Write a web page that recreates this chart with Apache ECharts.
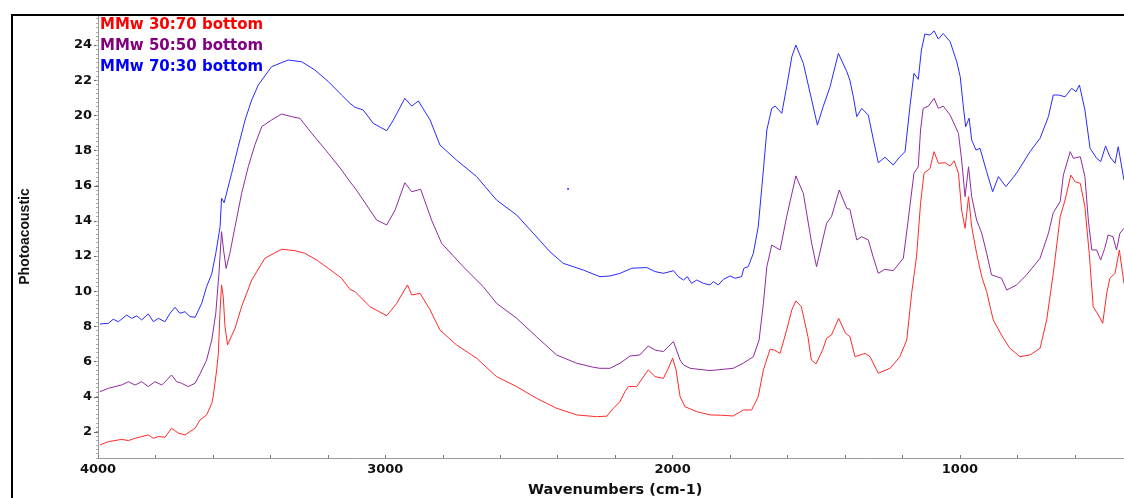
<!DOCTYPE html>
<html>
<head>
<meta charset="utf-8">
<script src="https://cdn.jsdelivr.net/npm/echarts@6/dist/echarts.min.js"></script>
<style>
html,body{margin:0;padding:0;background:#fff;}
#chart{width:1124px;height:498px;}
</style>
</head>
<body>
<div id="chart"></div>
<script>
// Series names
const seriesNames = ['MMw 30:70 bottom', 'MMw 50:50 bottom', 'MMw 70:30 bottom'];

// [wavenumber (cm-1), photoacoustic signal]
const red = [
[3993,1.26],[3964,1.45],[3941,1.51],[3918,1.58],[3894,1.51],[3871,1.64],[3848,1.74],[3825,1.83],[3807,1.64],[3790,1.74],[3767,1.70],[3744,2.21],[3720,1.93],[3697,1.83],[3680,2.02],[3662,2.21],[3645,2.68],[3622,2.97],[3604,3.63],[3599,4.01],[3587,5.53],[3581,6.47],[3575,8.94],[3570,10.36],[3564,9.69],[3558,7.99],[3549,6.95],[3523,7.9],[3500,9.13],[3465,10.64],[3419,11.88],[3361,12.39],[3314,12.31],[3280,12.16],[3239,11.78],[3198,11.3],[3152,10.74],[3123,10.11],[3105,9.98],[3053,9.12],[2995,8.61],[2960,9.32],[2923,10.36],[2908,9.79],[2879,9.88],[2844,8.94],[2810,7.8],[2752,6.95],[2682,6.19],[2613,5.15],[2543,4.58],[2474,3.92],[2404,3.35],[2334,2.97],[2265,2.87],[2229,2.9],[2206,3.35],[2183,3.73],[2166,4.29],[2154,4.58],[2125,4.58],[2085,5.53],[2061,5.15],[2032,5.05],[2015,5.62],[2000,6.19],[1988,5.53],[1974,4.01],[1957,3.44],[1917,3.16],[1870,2.97],[1830,2.95],[1789,2.91],[1754,3.25],[1725,3.25],[1702,4.01],[1684,5.53],[1661,6.7],[1645,6.65],[1626,6.47],[1603,7.8],[1585,8.94],[1571,9.45],[1552,9.13],[1529,7.42],[1517,6.09],[1501,5.87],[1478,6.66],[1464,7.33],[1447,7.52],[1422,8.46],[1398,7.61],[1383,7.42],[1365,6.28],[1359,6.19],[1330,6.47],[1313,6.28],[1284,5.34],[1243,5.62],[1209,6.28],[1185,7.23],[1168,9.89],[1151,11.97],[1137,15.0],[1125,16.71],[1104,16.99],[1090,17.94],[1075,17.28],[1051,17.31],[1034,17.12],[1020,17.42],[1005,16.71],[994,14.62],[982,13.58],[970,15.38],[959,13.67],[942,12.16],[924,10.83],[907,9.98],[884,8.37],[849,7.33],[826,6.76],[791,6.28],[756,6.38],[721,6.76],[698,8.37],[675,11.02],[651,14.24],[634,15.19],[614,16.61],[599,16.23],[581,16.14],[565,14.81],[550,12.16],[536,9.12],[518,8.65],[503,8.18],[489,9.89],[478,10.74],[460,11.02],[445,12.35],[429,10.45]
];

const purple = [
[3993,4.29],[3964,4.48],[3941,4.58],[3918,4.67],[3894,4.86],[3871,4.67],[3848,4.86],[3825,4.58],[3802,4.86],[3778,4.67],[3755,5.05],[3744,5.24],[3726,4.86],[3709,4.77],[3686,4.58],[3662,4.77],[3645,5.3],[3622,6.09],[3604,7.23],[3590,8.75],[3579,11.02],[3570,13.39],[3563,12.35],[3554,11.3],[3541,12.16],[3523,13.67],[3500,15.57],[3477,17.08],[3454,18.32],[3430,19.36],[3396,19.74],[3361,20.08],[3326,19.93],[3297,19.83],[3256,18.98],[3198,17.84],[3152,16.9],[3123,16.23],[3105,15.86],[3077,15.19],[3030,14.05],[2995,13.77],[2966,14.62],[2932,16.17],[2908,15.66],[2877,15.8],[2839,14.05],[2804,12.73],[2729,11.4],[2659,10.26],[2613,9.32],[2543,8.47],[2474,7.42],[2404,6.38],[2334,5.91],[2276,5.68],[2253,5.62],[2218,5.62],[2183,5.91],[2148,6.32],[2114,6.38],[2085,6.89],[2061,6.66],[2032,6.57],[1997,7.14],[1974,6.09],[1962,5.81],[1939,5.62],[1870,5.49],[1789,5.62],[1754,5.91],[1719,6.28],[1699,7.23],[1684,9.32],[1672,11.4],[1655,12.63],[1626,12.35],[1603,14.24],[1571,16.56],[1545,15.57],[1516,12.73],[1499,11.4],[1464,13.87],[1447,14.24],[1420,15.76],[1394,14.72],[1383,14.66],[1359,12.92],[1342,13.1],[1319,12.92],[1301,11.9],[1284,11.02],[1261,11.25],[1232,11.17],[1197,11.88],[1180,14.05],[1160,16.71],[1145,17.08],[1137,19.17],[1128,20.4],[1110,20.53],[1090,20.97],[1075,20.4],[1058,20.53],[1034,20.02],[1005,18.98],[994,17.46],[982,15.38],[970,17.08],[959,15.38],[942,14.05],[924,13.3],[907,12.16],[890,10.93],[855,10.74],[837,10.07],[803,10.36],[768,10.93],[721,11.88],[692,13.3],[675,14.47],[651,15.1],[640,16.61],[616,17.94],[605,17.56],[581,17.65],[565,16.52],[553,14.05],[541,12.35],[524,12.35],[510,11.78],[496,12.44],[484,13.2],[467,13.1],[455,12.35],[443,13.3],[429,13.58]
];

const blue = [
[3993,8.14],[3964,8.18],[3947,8.41],[3929,8.27],[3900,8.65],[3883,8.46],[3865,8.6],[3848,8.37],[3825,8.71],[3807,8.27],[3790,8.46],[3767,8.27],[3749,8.75],[3732,9.09],[3715,8.75],[3697,8.84],[3680,8.56],[3662,8.52],[3639,9.32],[3622,10.26],[3604,11.0],[3590,12.16],[3575,13.67],[3570,15.29],[3561,15.04],[3535,16.7],[3512,18.22],[3488,19.74],[3465,20.88],[3442,21.73],[3396,22.77],[3338,23.15],[3291,23.05],[3245,22.58],[3198,21.92],[3152,21.16],[3123,20.69],[3105,20.46],[3077,20.31],[3042,19.55],[2995,19.13],[2972,19.74],[2932,20.97],[2908,20.53],[2885,20.82],[2844,19.74],[2810,18.32],[2752,17.46],[2682,16.52],[2613,15.19],[2543,14.34],[2485,13.3],[2427,12.25],[2381,11.59],[2311,11.21],[2253,10.83],[2218,10.87],[2183,11.02],[2142,11.31],[2090,11.35],[2061,11.12],[2032,11.02],[1997,11.17],[1980,10.83],[1962,10.64],[1949,10.83],[1934,10.45],[1916,10.64],[1893,10.45],[1870,10.36],[1858,10.55],[1841,10.36],[1823,10.68],[1800,10.87],[1783,10.74],[1760,10.83],[1752,11.31],[1737,11.4],[1719,12.16],[1702,13.67],[1684,16.9],[1672,19.17],[1655,20.4],[1643,20.53],[1620,20.12],[1603,21.63],[1585,23.34],[1571,24.0],[1545,22.96],[1516,20.88],[1496,19.45],[1476,20.5],[1452,21.63],[1423,23.53],[1394,22.5],[1383,22.0],[1371,21.06],[1359,19.93],[1342,20.4],[1319,20.02],[1301,18.6],[1284,17.31],[1261,17.62],[1232,17.18],[1209,17.65],[1191,17.94],[1174,20.49],[1160,22.39],[1145,22.05],[1134,23.72],[1122,24.63],[1104,24.57],[1090,24.81],[1075,24.34],[1058,24.66],[1034,24.19],[1011,23.05],[999,22.2],[988,20.49],[980,19.36],[968,19.84],[959,18.6],[944,18.03],[930,18.13],[907,16.8],[886,15.66],[866,16.52],[840,15.95],[803,16.71],[756,17.94],[721,18.7],[692,19.93],[675,21.16],[657,21.16],[634,21.06],[611,21.54],[596,21.35],[584,21.73],[565,20.31],[547,18.13],[524,17.56],[510,17.37],[493,18.26],[478,17.65],[460,17.28],[449,18.22],[429,16.33]
];

// stray point visible in the reference
const strayPoint = [[2364, 15.82]];

// Axis ticks / labels
const yTickValues = [2,4,6,8,10,12,14,16,18,20,22,24];
const xLabelValues = [4000,3000,2000,1000];

const chart = echarts.init(document.getElementById('chart'), null, {renderer:'canvas'});
const tickFont = {fontFamily:'DejaVu Sans', fontWeight:'bold', fontSize:13, color:'#111'};

chart.setOption({
  animation:false,
  backgroundColor:'#fff',
  grid:{left:98, right:-8.3, top:15, bottom:40, containLabel:false, outerBoundsMode:'none'},
  legend:{
    orient:'vertical', left:95, top:18, padding:0,
    icon:'none', itemWidth:0, itemHeight:14, itemGap:6,
    selectedMode:false,
    textStyle:{fontFamily:'DejaVu Sans', fontWeight:'bold', fontSize:15},
    data:[
      {name:seriesNames[0], textStyle:{color:'#ff0000'}},
      {name:seriesNames[1], textStyle:{color:'#800080'}},
      {name:seriesNames[2], textStyle:{color:'#0000ff'}}
    ]
  },
  xAxis:{
    type:'value', inverse:true, min:400, max:4000, interval:200,
    name:'Wavenumbers (cm-1)', nameLocation:'middle', nameGap:25,
    nameTextStyle:{fontFamily:'DejaVu Sans', fontWeight:'bold', fontSize:14.5, color:'#111'},
    axisLine:{lineStyle:{color:'#999', width:1}},
    axisTick:{inside:true, length:3, lineStyle:{color:'#777'}},
    axisLabel:Object.assign({margin:5, formatter:function(v){return xLabelValues.indexOf(v)>=0 ? String(v) : '';}}, tickFont),
    splitLine:{show:false}
  },
  yAxis:[{
    type:'value', min:0.52, max:25.71, position:'left',
    name:'Photoacoustic', nameLocation:'middle', nameGap:66, nameRotate:90,
    nameTextStyle:{fontFamily:'Liberation Sans', fontWeight:'bold', fontSize:14, color:'#111'},
    axisLine:{show:true, lineStyle:{color:'#999', width:1}},
    axisTick:{show:true, length:4, customValues:yTickValues, lineStyle:{color:'#666'}},
    axisLabel:Object.assign({margin:6, customValues:yTickValues}, tickFont),
    splitLine:{show:false}
  },{
    type:'value', min:0.5, max:25.71, interval:0.25, position:'left', offset:0,
    axisLine:{show:false},
    axisTick:{show:true, length:2, lineStyle:{color:'#aaa'}},
    axisLabel:{show:false},
    splitLine:{show:false}
  }],
  graphic:[{
    type:'rect', silent:true, z:100,
    shape:{x:12, y:15, width:1200, height:600},
    style:{fill:'none', stroke:'#000', lineWidth:2}
  }],
  series:[
    {name:seriesNames[0], type:'line', data:red, showSymbol:false, symbol:'none',
     lineStyle:{color:'#ff2a2a', width:1}, itemStyle:{color:'#ff0000'}},
    {name:seriesNames[1], type:'line', data:purple, showSymbol:false, symbol:'none',
     lineStyle:{color:'#8e2c9e', width:1}, itemStyle:{color:'#800080'}},
    {name:seriesNames[2], type:'line', data:blue, showSymbol:false, symbol:'none',
     lineStyle:{color:'#2a2aff', width:1}, itemStyle:{color:'#0000ff'}},
    {name:'stray', type:'scatter', data:strayPoint, symbolSize:2,
     itemStyle:{color:'#0000ff'}, silent:true}
  ]
});
</script>
</body>
</html>
